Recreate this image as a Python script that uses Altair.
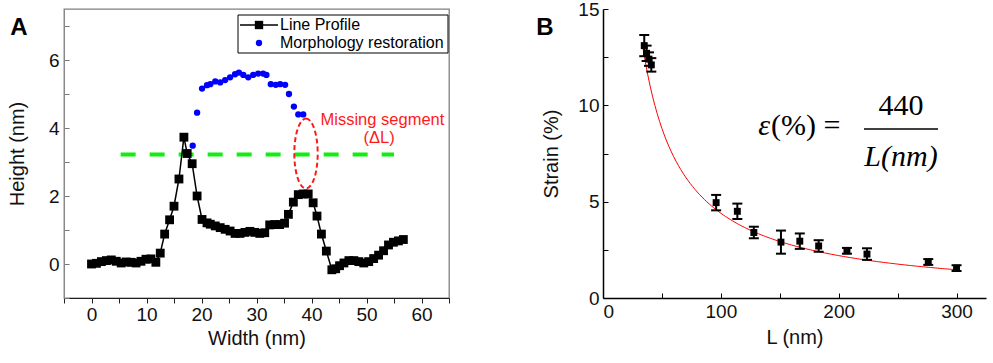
import altair as alt
import pandas as pd

# ---------------- Panel A data ----------------
lp_width = [0.0, 0.9, 1.8, 2.7, 3.6, 4.5, 5.4, 6.3, 7.2, 8.1, 9.0, 9.9, 10.8, 11.7,
            12.5, 13.3, 14.2, 15.0, 15.9, 16.8, 17.4, 18.3, 19.2, 20.1, 21.0, 21.6,
            22.5, 23.4, 24.3, 25.2, 26.1, 27.0, 27.9, 28.8, 29.7, 30.6, 31.5, 32.4,
            33.3, 34.2, 35.1, 35.8, 36.7, 37.6, 38.5, 39.4, 40.3, 41.0, 41.8, 42.7,
            43.7, 44.4, 45.1, 45.9, 46.8, 47.7, 48.6, 49.5, 50.4, 51.3, 52.2, 53.1,
            54.0, 54.9, 55.8, 56.7]
lp_height = [0.00, 0.02, 0.07, 0.10, 0.12, 0.08, 0.03, 0.06, 0.05, 0.03, 0.08, 0.14, 0.15, 0.05,
             0.32, 0.88, 1.30, 1.70, 2.50, 3.73, 3.25, 2.95, 2.00, 1.31, 1.21, 1.17,
             1.12, 1.07, 1.02, 0.97, 0.90, 0.90, 0.93, 0.96, 0.93, 0.90, 0.92, 1.15,
             1.16, 1.16, 1.20, 1.46, 1.82, 2.04, 2.06, 2.06, 1.80, 1.41, 0.88, 0.38,
             -0.17, -0.14, -0.05, 0.03, 0.10, 0.10, 0.07, 0.03, 0.07, 0.16, 0.26, 0.39,
             0.56, 0.64, 0.68, 0.72]

mr_width = [18.4, 19.2, 20.1, 21.0, 21.6, 22.5, 23.4, 24.3, 25.2, 26.1, 26.8, 27.6,
            28.5, 29.4, 30.3, 31.2, 31.8, 32.6, 33.5, 34.3, 35.2, 35.9, 36.8, 37.6, 38.5]
mr_height = [3.48, 4.45, 5.16, 5.26, 5.29, 5.37, 5.34, 5.41, 5.49, 5.58, 5.63, 5.56,
             5.49, 5.56, 5.60, 5.60, 5.56, 5.29, 5.27, 5.29, 5.27, 5.00, 4.63, 4.40, 4.40]

threshold_level = 3.22
threshold_from = 5.3
threshold_to = 55.0
missing_center = (39.0, 3.25)

# ---------------- Panel B data ----------------
L_nm = [35, 37, 39, 41, 96, 114, 128, 151, 167, 183, 207, 224, 276, 300]
strain = [13.1, 12.7, 12.4, 12.1, 4.95, 4.5, 3.4, 2.9, 2.95, 2.7, 2.45, 2.28, 1.87, 1.55]
strain_err = [0.55, 0.4, 0.35, 0.35, 0.4, 0.4, 0.3, 0.6, 0.4, 0.3, 0.15, 0.3, 0.15, 0.15]
fit_constant = 440

FONT = "Liberation Sans"
SERIF = "Liberation Serif"

lp = pd.DataFrame({"w": lp_width, "h": lp_height})
mr = pd.DataFrame({"w": mr_width, "h": mr_height})
one = pd.DataFrame({"a": [0]})

WA, HA = 385, 289

xA = alt.X("w:Q", scale=alt.Scale(domain=[-5, 65], nice=False, zero=False),
           axis=alt.Axis(title="Width (nm)", values=list(range(-5, 70, 5)),
                         labelExpr="datum.value % 10 === 0 ? datum.label : ''",
                         tickSize=5, tickColor="#222", domainColor="#222",
                         labelPadding=2, titlePadding=4, grid=False))
yA = alt.Y("h:Q", scale=alt.Scale(domain=[-1, 7.5], nice=False, zero=False),
           axis=alt.Axis(title="Height (nm)", values=list(range(-1, 8)),
                         labelExpr="datum.value % 2 === 0 ? datum.label : ''",
                         tickSize={"expr": "-5"}, tickColor="#777", domainColor="#888",
                         labelPadding=10, titlePadding=21, grid=False))

green = alt.Chart(pd.DataFrame({"w": [threshold_from], "w2": [threshold_to], "h": [threshold_level]})).mark_rule(
    color="#11ee11", strokeWidth=4, strokeDash=[15, 14]).encode(x=xA, x2="w2:Q", y=yA)

line = alt.Chart(lp).mark_line(color="black", strokeWidth=1.5).encode(x=xA, y=yA)
squares = alt.Chart(lp).mark_point(shape="square", filled=True, size=78, color="black", opacity=1).encode(x=xA, y=yA)
dots = alt.Chart(mr).mark_circle(size=40, color="#0000ff", opacity=1).encode(x=xA, y=yA)

ellipse = alt.Chart(pd.DataFrame({"w": [missing_center[0]], "h": [missing_center[1]]})).mark_point(
    shape="M0,-1 A0.334,1 0 1,1 0,1 A0.334,1 0 1,1 0,-1 Z", size=4900, filled=False,
    stroke="#ff1a1a", strokeWidth=2, strokeDash=[5, 3], opacity=1).encode(x=xA, y=yA)

ann = alt.Chart(pd.DataFrame({"w": [52.9, 52.3], "h": [4.25, 3.72], "t": ["Missing segment", "(ΔL)"]})).mark_text(
    color="#ff1a1a", font=FONT, fontSize=16.5, align="center", baseline="middle").encode(x=xA, y=yA, text="t:N")

# legend (hand-drawn box, inside the frame, top right)
leg_box = alt.Chart(one).mark_rect(fill="white", stroke="black", strokeWidth=1).encode(
    x=alt.value(174), x2=alt.value(384), y=alt.value(6), y2=alt.value(44))
leg_line = alt.Chart(one).mark_rule(color="black", strokeWidth=1.5).encode(
    x=alt.value(176), x2=alt.value(214), y=alt.value(16))
leg_sq = alt.Chart(one).mark_point(shape="square", filled=True, size=70, color="black", opacity=1).encode(
    x=alt.value(195), y=alt.value(16))
leg_dot = alt.Chart(one).mark_circle(size=40, color="#0000ff", opacity=1).encode(
    x=alt.value(195), y=alt.value(34))
leg_t1 = alt.Chart(one).mark_text(text="Line Profile", font=FONT, fontSize=16, align="left", baseline="middle").encode(
    x=alt.value(216), y=alt.value(16))
leg_t2 = alt.Chart(one).mark_text(text="Morphology restoration", font=FONT, fontSize=16, align="left", baseline="middle").encode(
    x=alt.value(216), y=alt.value(34))
labA = alt.Chart(one).mark_text(text="A", font=FONT, fontSize=24, fontWeight="bold", align="center", baseline="middle").encode(
    x=alt.value(-45), y=alt.value(19))

panelA = alt.layer(green, line, squares, dots, ellipse, ann, leg_box, leg_line, leg_sq, leg_dot,
                   leg_t1, leg_t2, labA).properties(
    width=WA, height=HA, view=alt.ViewBackground(stroke="#7f7f7f", strokeWidth=1.3))

# ---------------- Panel B ----------------
WB, HB = 383, 289
pts = pd.DataFrame({"L": L_nm, "s": strain, "e": strain_err})
pts["lo"] = pts["s"] - pts["e"]
pts["hi"] = pts["s"] + pts["e"]

xB = alt.X("L:Q", scale=alt.Scale(domain=[0, 325], nice=False),
           axis=alt.Axis(title="L (nm)", values=list(range(0, 301, 50)),
                         labelExpr="datum.value % 100 === 0 ? datum.label : ''",
                         tickSize={"expr": "-5"}, tickColor="black", domainColor="black",
                         domainWidth=1.5, labelPadding=9, titlePadding=6, grid=False))
yB = alt.Y("s:Q", scale=alt.Scale(domain=[0, 15], nice=False),
           axis=alt.Axis(title="Strain (%)", values=[0, 2.5, 5, 7.5, 10, 12.5, 15],
                         labelExpr="datum.value % 5 === 0 ? datum.label : ''",
                         tickSize={"expr": "-5"}, tickColor="black", domainColor="black",
                         domainWidth=1.5, labelPadding=9, titlePadding=16, grid=False))

fit = alt.Chart(alt.sequence(34, 302, 2, as_="L")).transform_calculate(
    s=f"{fit_constant} / datum.L").mark_line(color="#ff0000", strokeWidth=1).encode(x=xB, y=yB)
err = alt.Chart(pts).mark_rule(color="black", strokeWidth=2).encode(x=xB, y=alt.Y("lo:Q"), y2="hi:Q")
cap_lo = alt.Chart(pts).mark_tick(orient="horizontal", size=10, thickness=2, color="black", opacity=1).encode(
    x=xB, y=alt.Y("lo:Q"))
cap_hi = alt.Chart(pts).mark_tick(orient="horizontal", size=10, thickness=2, color="black", opacity=1).encode(
    x=xB, y=alt.Y("hi:Q"))
ptsB = alt.Chart(pts).mark_point(shape="square", filled=True, size=48, color="black", opacity=1).encode(x=xB, y=yB)

f1 = alt.Chart(one).mark_text(text="ε", font=SERIF, fontSize=30, fontStyle="italic", align="right", baseline="middle").encode(
    x=alt.value(167), y=alt.value(117))
f2 = alt.Chart(one).mark_text(text="(%) =", font=SERIF, fontSize=30, align="left", baseline="middle").encode(
    x=alt.value(168), y=alt.value(117))
f3 = alt.Chart(one).mark_text(text="440", font=SERIF, fontSize=30, align="center", baseline="middle").encode(
    x=alt.value(298), y=alt.value(97))
f4 = alt.Chart(one).mark_rule(color="black", strokeWidth=1.5).encode(
    x=alt.value(261), x2=alt.value(335), y=alt.value(120))
f5 = alt.Chart(one).mark_text(text="L(nm)", font=SERIF, fontSize=30, fontStyle="italic", align="center", baseline="middle").encode(
    x=alt.value(298), y=alt.value(148))
labB = alt.Chart(one).mark_text(text="B", font=FONT, fontSize=24, fontWeight="bold", align="center", baseline="middle").encode(
    x=alt.value(-58), y=alt.value(19))

panelB = alt.layer(fit, err, cap_lo, cap_hi, ptsB, f1, f2, f3, f4, f5, labB).properties(width=WB, height=HB)

chart = alt.hconcat(panelA, panelB, spacing=85).configure_view(strokeWidth=0).configure_axis(
    labelFont=FONT, titleFont=FONT, labelFontSize=19, titleFontSize=20, labelColor="#111",
    titleColor="#111", titleFontWeight="normal").properties(
    padding={"left": 6, "top": 0, "right": 3, "bottom": 4})

chart.save("out.html", embed_options={"renderer": "svg", "actions": False})
